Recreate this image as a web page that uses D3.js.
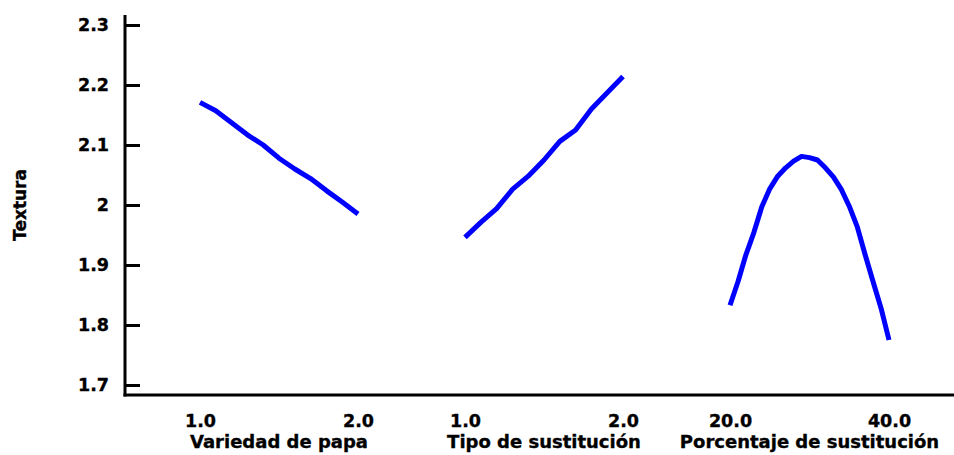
<!DOCTYPE html>
<html>
<head>
<meta charset="utf-8">
<script src="https://cdn.jsdelivr.net/npm/d3@7"></script>
<style>
  body { margin: 0; background: #fff; }
  svg { display: block; }
  text { font-family: "DejaVu Sans", sans-serif; font-weight: bold; fill: #000; stroke: #000; stroke-width: 0.35px; }
</style>
</head>
<body>
<svg id="chart" width="954" height="455"></svg>
<script>
// ---- data ----
const yTicks = [1.7, 1.8, 1.9, 2.0, 2.1, 2.2, 2.3];
const yTickLabels = ["1.7", "1.8", "1.9", "2", "2.1", "2.2", "2.3"];
const yTitle = "Textura";

const factorNames = ["Variedad de papa", "Tipo de sustitución", "Porcentaje de sustitución"];
const factorDomains = [[1, 2], [1, 2], [20, 40]];
const factorTickLabels = [["1.0", "2.0"], ["1.0", "2.0"], ["20.0", "40.0"]];

const variedadX = [1.0, 1.1, 1.2, 1.3, 1.4, 1.5, 1.6, 1.7, 1.8, 1.9, 2.0];
const variedadY = [2.171, 2.157, 2.137, 2.117, 2.100, 2.078, 2.060, 2.044, 2.024, 2.005, 1.985];

const tipoX = [1.0, 1.1, 1.2, 1.3, 1.4, 1.5, 1.6, 1.7, 1.8, 1.9, 2.0];
const tipoY = [1.946, 1.971, 1.994, 2.026, 2.048, 2.075, 2.106, 2.125, 2.160, 2.187, 2.214];

const porcentajeX = [20, 21, 22, 23, 24, 25, 26, 27, 28, 29, 30, 31, 32, 33, 34, 35, 36, 37, 38, 39, 40];
const porcentajeY = [1.833, 1.872, 1.917, 1.954, 1.997, 2.027, 2.048, 2.062, 2.073, 2.081, 2.079,
                     2.075, 2.062, 2.047, 2.026, 1.998, 1.964, 1.917, 1.872, 1.828, 1.775];

const seriesX = [variedadX, tipoX, porcentajeX];
const seriesY = [variedadY, tipoY, porcentajeY];

// ---- layout ----
const svg = d3.select("#chart");
const axisX = 125;          // y-axis position
const axisYpos = 395;       // x-axis baseline
const panelRanges = [[200, 358], [465, 623], [730, 889]];

const y = d3.scaleLinear().domain([1.7, 2.3]).range([385, 25]);

// y axis ticks and labels
const yAxis = d3.axisLeft(y)
  .tickValues(yTicks)
  .tickFormat((d, i) => yTickLabels[i])
  .tickSizeInner(-15)
  .tickSizeOuter(0)
  .tickPadding(16);

const gy = svg.append("g").attr("transform", `translate(${axisX},0)`).call(yAxis);
gy.select(".domain").remove();
gy.selectAll(".tick line").attr("stroke", "#000").attr("stroke-width", 3);
gy.selectAll(".tick text")
  .style("font-family", "'DejaVu Sans', sans-serif")
  .style("font-weight", "bold")
  .style("font-size", "17.5px")
  .attr("fill", "#000");

// axis lines
svg.append("line")
  .attr("x1", axisX).attr("x2", axisX)
  .attr("y1", 15).attr("y2", axisYpos + 1.5)
  .attr("stroke", "#000").attr("stroke-width", 3);
svg.append("line")
  .attr("x1", axisX - 1.5).attr("x2", 954)
  .attr("y1", axisYpos).attr("y2", axisYpos)
  .attr("stroke", "#000").attr("stroke-width", 3);

// y title
svg.append("text")
  .attr("transform", `translate(26,${y(2.0)}) rotate(-90)`)
  .attr("text-anchor", "middle")
  .style("font-size", "17px")
  .text(yTitle);

// panels
const line = d3.line().curve(d3.curveLinear);

factorNames.forEach((name, i) => {
  const x = d3.scaleLinear().domain(factorDomains[i]).range(panelRanges[i]);

  const xAxis = d3.axisBottom(x)
    .tickValues(factorDomains[i])
    .tickFormat((d, j) => factorTickLabels[i][j])
    .tickSize(0)
    .tickPadding(0);

  const gx = svg.append("g").attr("transform", `translate(0,${axisYpos})`).call(xAxis);
  gx.select(".domain").remove();
  gx.selectAll(".tick text")
    .attr("y", 31.5)
    .attr("dy", 0)
    .style("font-family", "'DejaVu Sans', sans-serif")
    .style("font-weight", "bold")
    .style("font-size", "17.5px")
    .attr("fill", "#000");

  svg.append("text")
    .attr("x", (panelRanges[i][0] + panelRanges[i][1]) / 2)
    .attr("y", 448)
    .attr("text-anchor", "middle")
    .style("font-size", "18px")
    .text(name);

  const pts = seriesX[i].map((v, k) => [x(v), y(seriesY[i][k])]);
  svg.append("path")
    .attr("d", line(pts))
    .attr("fill", "none")
    .attr("stroke", "#0000ff")
    .attr("stroke-width", 5)
    .attr("stroke-linejoin", "round");
});
</script>
</body>
</html>
